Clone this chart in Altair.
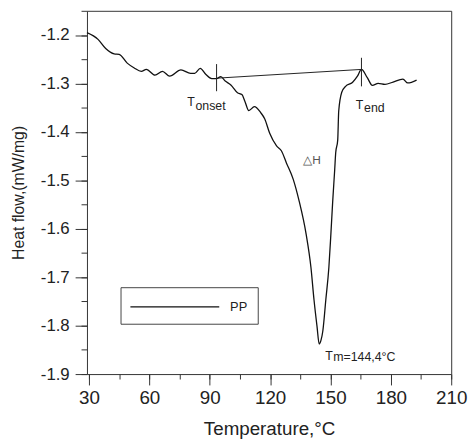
import altair as alt
import pandas as pd

# ---- DSC curve ----
temperature = [29.0, 34.5, 38.3, 42.5, 45.0, 49.0, 52.5, 56.0, 58.5, 62.8, 66.5, 70.1,
               75.7, 80.5, 82.5, 85.3, 88.0, 91.0, 93.4, 95.5, 97.7, 100.5, 103.8,
               106.0, 107.5, 109.4, 112.2, 115.3, 117.3, 119.8, 123.2, 125.6, 128.1,
               131.5, 134.5, 137.9, 140.3, 141.8, 143.3, 144.4, 145.3, 146.2, 147.7,
               149.2, 150.2, 151.1, 152.1, 152.6, 153.6, 154.1, 155.6, 157.5, 160.9,
               163.4, 165.4, 168.3, 170.8, 173.7, 177.1, 181.1, 186.0, 188.4, 192.8]
heat_flow = [-1.195, -1.209, -1.228, -1.239, -1.240, -1.258, -1.268, -1.275, -1.271,
             -1.283, -1.275, -1.285, -1.272, -1.279, -1.279, -1.269, -1.281, -1.290,
             -1.290, -1.286, -1.295, -1.303, -1.319, -1.323, -1.337, -1.356, -1.348,
             -1.360, -1.373, -1.403, -1.429, -1.439, -1.464, -1.498, -1.544, -1.611,
             -1.680, -1.746, -1.801, -1.838, -1.830, -1.811, -1.746, -1.680, -1.611,
             -1.544, -1.478, -1.443, -1.417, -1.357, -1.318, -1.306, -1.298, -1.285,
             -1.271, -1.288, -1.304, -1.300, -1.302, -1.297, -1.291, -1.299, -1.293]
sample_name = "PP"

# ---- baseline between onset and end ----
baseline_temp = [93.8, 165.4]
baseline_flow = [-1.289, -1.271]

# ---- vertical markers at T_onset and T_end ----
marker_temp = [93.4, 165.4]
marker_low = [-1.316, -1.306]
marker_high = [-1.260, -1.247]

# ---- annotations ----
label_text = ["T", "onset", "T", "end", "T", "m=144,4°C"]
label_temp = [78.8, 82.9, 162.6, 166.7, 147.4, 151.4]
label_flow = [-1.346, -1.355, -1.353, -1.359, -1.871, -1.874]
dh_text = ["△H"]
dh_temp = [136.5]
dh_flow = [-1.466]

# ---- axis ticks ----
x_major = [30, 60, 90, 120, 150, 180, 210]
x_minor = [30, 45, 60, 75, 90, 105, 120, 135, 150, 165, 180, 195, 210]
y_major = [-1.9, -1.8, -1.7, -1.6, -1.5, -1.4, -1.3, -1.2]
y_minor = [-1.9, -1.85, -1.8, -1.75, -1.7, -1.65, -1.6, -1.55, -1.5, -1.45,
           -1.4, -1.35, -1.3, -1.25, -1.2, -1.15]

FONT = "Liberation Sans"
INK = "#222222"

curve_df = pd.DataFrame({"temperature": temperature, "heat_flow": heat_flow,
                         "sample": [sample_name] * len(temperature)})
base_df = pd.DataFrame({"temperature": baseline_temp, "heat_flow": baseline_flow})
marker_df = pd.DataFrame({"temperature": marker_temp, "low": marker_low, "high": marker_high})
label_df = pd.DataFrame({"text": label_text, "temperature": label_temp, "heat_flow": label_flow})
dh_df = pd.DataFrame({"text": dh_text, "temperature": dh_temp, "heat_flow": dh_flow})

x_scale = alt.Scale(domain=[29, 210], nice=False, zero=False)
y_scale = alt.Scale(domain=[-1.9, -1.15], nice=False, zero=False)

minor_x_axis = alt.Axis(orient="bottom", values=x_minor, tickSize=5, labels=False,
                        domain=False, grid=False, title=None, tickColor="#333", tickWidth=1)
minor_y_axis = alt.Axis(orient="left", values=y_minor, tickSize=6, labels=False,
                        domain=False, grid=False, title=None, tickColor="#333", tickWidth=1)
major_x_axis = alt.Axis(orient="bottom", values=x_major, tickSize=11, tickColor="#333",
                        tickWidth=1, labelFontSize=19, labelFont=FONT, labelColor=INK,
                        labelPadding=4, labelFlush=False, title="Temperature,°C",
                        titleFont=FONT, titleFontSize=19, titleFontWeight="normal",
                        titleColor=INK, titlePadding=12, domain=False, grid=False)
major_y_axis = alt.Axis(orient="left", values=y_major, tickSize=12, tickColor="#333",
                        tickWidth=1, labelFontSize=17, labelFont=FONT, labelColor=INK,
                        labelPadding=6, labelFlush=False,
                        labelExpr="'-' + format(abs(datum.value), '.1f')",
                        title="Heat flow,(mW/mg)", titleFont=FONT, titleFontSize=16,
                        titleFontWeight="normal", titleColor=INK, titlePadding=14,
                        domain=False, grid=False)

curve = alt.Chart(curve_df).mark_line(strokeWidth=1.3, interpolate="monotone").encode(
    x=alt.X("temperature:Q", scale=x_scale, axis=minor_x_axis),
    y=alt.Y("heat_flow:Q", scale=y_scale, axis=minor_y_axis),
    color=alt.Color("sample:N", scale=alt.Scale(range=["#111111"]),
                    legend=alt.Legend(title=None, orient="none", legendX=34, legendY=280,
                                      symbolType="M0,0L10,0", symbolSize=324,
                                      symbolStrokeWidth=1.2, symbolOffset=-10,
                                      labelOffset=91, labelFontSize=13, labelFont=FONT,
                                      labelColor=INK, strokeColor="#444444",
                                      fillColor="white", padding=10)),
)

baseline = alt.Chart(base_df).mark_line(strokeWidth=1, color="#222").encode(
    x=alt.X("temperature:Q", scale=x_scale, axis=major_x_axis),
    y=alt.Y("heat_flow:Q", scale=y_scale, axis=major_y_axis),
)

markers = alt.Chart(marker_df).mark_rule(strokeWidth=1, color="#222").encode(
    x=alt.X("temperature:Q", scale=x_scale, axis=None),
    y=alt.Y("low:Q", scale=y_scale, axis=None),
    y2="high:Q",
)

labels = alt.Chart(label_df).mark_text(align="left", baseline="alphabetic", font=FONT,
                                       fontSize=12.5, color=INK).encode(
    x=alt.X("temperature:Q", scale=x_scale, axis=None),
    y=alt.Y("heat_flow:Q", scale=y_scale, axis=None),
    text="text:N",
)

dh = alt.Chart(dh_df).mark_text(align="left", baseline="alphabetic", font=FONT,
                                fontSize=12, color="#555555").encode(
    x=alt.X("temperature:Q", scale=x_scale, axis=None),
    y=alt.Y("heat_flow:Q", scale=y_scale, axis=None),
    text="text:N",
)

chart = alt.layer(curve, baseline, markers, labels, dh).resolve_axis(
    x="independent", y="independent"
).properties(
    width=369, height=368,
    autosize=alt.AutoSizeParams(type="none"),
    padding={"left": 80, "top": 0, "right": 17, "bottom": 69},
).configure_view(stroke="#333333", strokeWidth=1)

chart.save("out.html", embed_options={"renderer": "svg", "actions": False})
